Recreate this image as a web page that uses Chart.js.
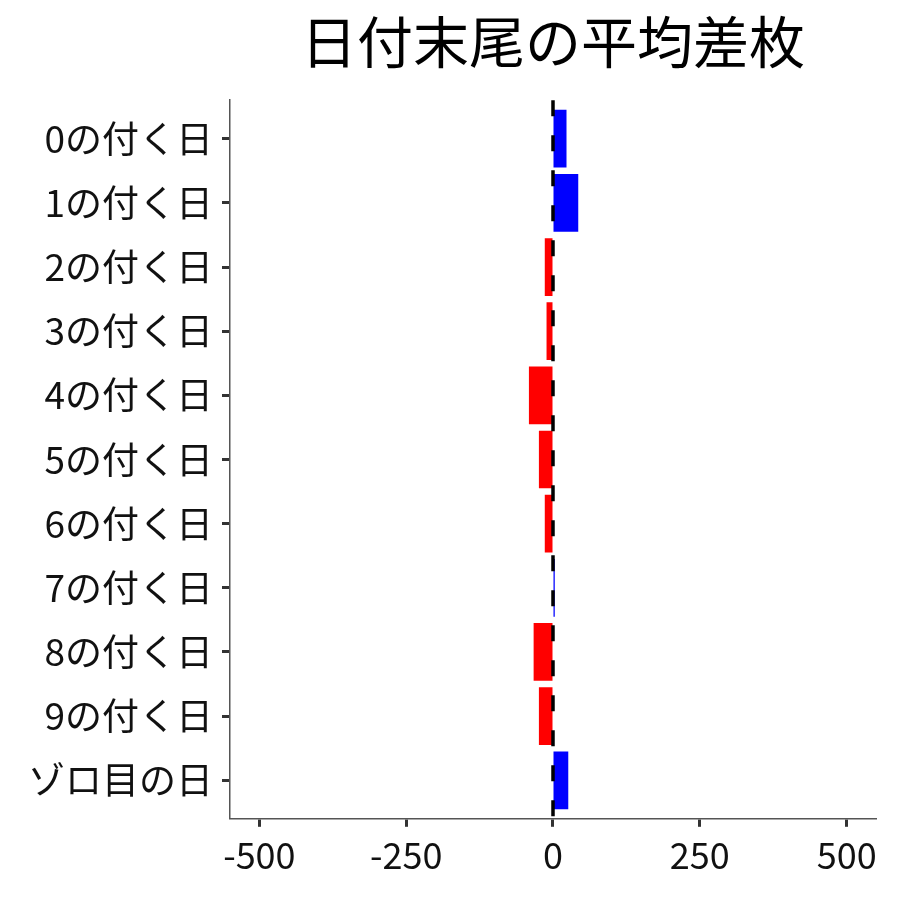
<!DOCTYPE html>
<html>
<head>
<meta charset="utf-8">
<script src="https://cdn.jsdelivr.net/npm/chart.js@4"></script>
<style>
  html, body { margin: 0; padding: 0; background: #fff; }
  #wrap { width: 900px; height: 900px; }
</style>
</head>
<body>
<div id="wrap"><canvas id="digitChart" width="900" height="900"></canvas></div>
<script>
// ── Data ──
const titleText = '日付末尾の平均差枚';
const days = ['0の付く日', '1の付く日', '2の付く日', '3の付く日', '4の付く日', '5の付く日',
              '6の付く日', '7の付く日', '8の付く日', '9の付く日', 'ゾロ目の日'];
const avgDiff = [23, 43, -14, -11, -41, -24, -14, 3, -33, -24, 26];
const xTicks = [-500, -250, 0, 250, 500];

const FONT = "'Noto Sans CJK JP', 'Noto Sans', sans-serif";

// ── Dashed zero line (drawn over the bars) ──
const zeroLine = {
  id: 'zeroLine',
  afterDatasetsDraw(chart) {
    const { ctx, chartArea, scales } = chart;
    const x = scales.x.getPixelForValue(0);
    ctx.save();
    ctx.strokeStyle = '#000';
    ctx.lineWidth = 3.5;
    ctx.setLineDash([16, 19]);
    ctx.beginPath();
    ctx.moveTo(x, chartArea.top);
    ctx.lineTo(x, chartArea.bottom + 10);
    ctx.stroke();
    ctx.restore();
  }
};

new Chart(document.getElementById('digitChart'), {
  type: 'bar',
  data: {
    labels: days,
    datasets: [{
      data: avgDiff,
      backgroundColor: avgDiff.map(v => v >= 0 ? '#0000ff' : '#ff0000'),
      borderWidth: 0,
      barPercentage: 0.9,
      categoryPercentage: 1.0
    }]
  },
  options: {
    responsive: false,
    animation: false,
    indexAxis: 'y',
    layout: { padding: { top: 0, right: 24, bottom: 16, left: 19 } },
    plugins: {
      legend: { display: false },
      tooltip: { enabled: false },
      title: {
        display: true,
        text: titleText,
        fullSize: false,
        color: '#000',
        font: { family: FONT, size: 56, weight: 'normal' },
        padding: { top: 8, bottom: 25 }
      }
    },
    scales: {
      x: {
        min: -550,
        max: 550,
        afterBuildTicks: axis => { axis.ticks = xTicks.map(v => ({ value: v })); },
        grid: { drawOnChartArea: false, drawTicks: true, tickLength: 8, tickWidth: 3, tickColor: '#333' },
        border: { display: true, color: '#555', width: 1.5 },
        ticks: { color: '#111', font: { family: FONT, size: 36 }, padding: 7, maxRotation: 0 }
      },
      y: {
        offset: true,
        // widen the category padding to 0.6 like ggplot's discrete expansion
        afterUpdate: axis => { axis._startValue -= 0.1; axis._valueRange += 0.2; },
        grid: { offset: false, drawOnChartArea: false, drawTicks: true, tickLength: 8, tickWidth: 3, tickColor: '#333' },
        border: { display: true, color: '#555', width: 1.5 },
        ticks: { color: '#111', font: { family: FONT, size: 37 }, padding: 9 }
      }
    }
  },
  plugins: [zeroLine]
});
</script>
</body>
</html>
